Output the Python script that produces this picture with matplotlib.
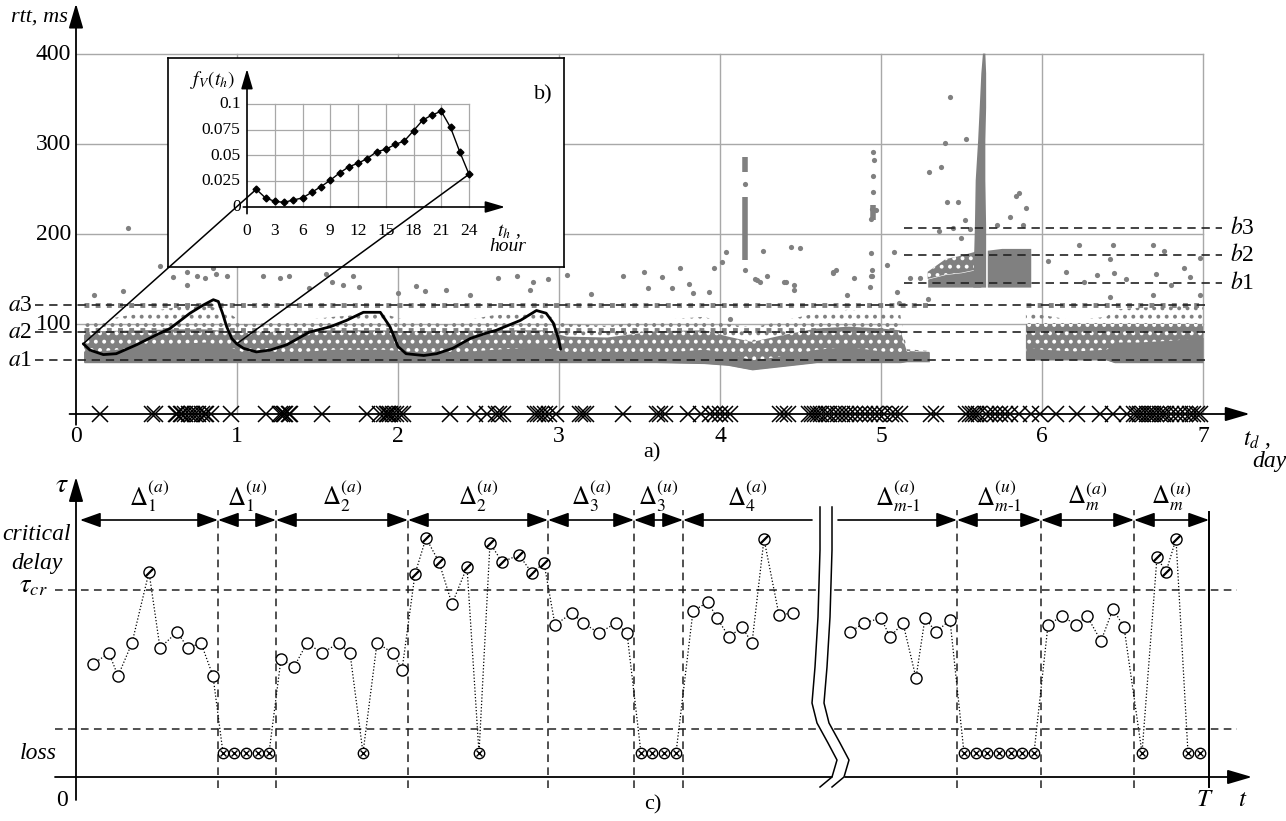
import numpy as np
import matplotlib
matplotlib.use("Agg")
import matplotlib.pyplot as plt
from matplotlib.patches import ConnectionPatch
from matplotlib.path import Path

plt.rcParams['font.family'] = ['Liberation Serif', 'DejaVu Serif']
plt.rcParams['mathtext.fontset'] = 'stix'
plt.rcParams['hatch.linewidth'] = 1.6

W, H = 1286, 821
GRAY = '#808080'
GRID = '#a8a8a8'
DASH = (0, (5, 3.5))

# ---------------- panel a) : rtt over a week ----------------
day_ticks = [0, 1, 2, 3, 4, 5, 6, 7]
rtt_ticks = [100, 200, 300, 400]
a_levels = [60, 91, 121]
b_levels = [146, 177, 207]
level_names = ['1', '2', '3']

# dense part of the rtt cloud (days, lower edge, solid core top, medium top, sparse top)
segA_days = [0.05, 0.15, 0.4, 0.6, 0.8, 0.95, 1.05, 1.3, 1.6, 1.9, 2.05, 2.3, 2.6, 2.9,
             3.05, 3.3, 3.6, 3.9, 4.05, 4.2, 4.4, 4.6, 4.8, 5.0, 5.12, 5.16, 5.3]
segA_low = [57, 57, 57, 57, 57, 57, 57, 57, 57, 57, 57, 57, 57, 57,
            57, 57, 57, 56, 54, 49, 53, 57, 57, 57, 57, 58, 58]
segA_core = [68, 70, 75, 78, 80, 75, 68, 68, 72, 72, 70, 68, 72, 75,
             68, 66, 68, 72, 68, 60, 65, 72, 75, 70, 68, 68, 69]
segA_mid = [90, 92, 93, 94, 94, 92, 90, 92, 93, 93, 92, 92, 93, 93,
            86, 85, 92, 93, 86, 80, 88, 95, 97, 95, 93, 70, 69]
segA_sparse = [100, 104, 112, 118, 122, 112, 100, 102, 108, 112, 104, 100, 110, 112,
               100, 98, 104, 108, 100, 96, 104, 112, 116, 112, 110, 72, 70]

segC_days = [5.9, 6.0, 6.2, 6.4, 6.45, 6.6, 6.8, 7.0]
segC_low = [60, 60, 60, 60, 57, 57, 57, 57]
segC_core = [75, 72, 70, 72, 80, 80, 82, 85]
segC_mid = [100, 100, 100, 100, 100, 100, 100, 100]
segC_sparse = [112, 110, 104, 108, 116, 118, 120, 122]

segB_days = [5.29, 5.4, 5.5, 5.58, 5.62]
segB_low = [141, 141, 141, 141, 141]
segB_core = [150, 155, 157, 160, 165]
segB_mid = [158, 172, 176, 180, 186]

segB2_days = [5.66, 5.75, 5.85, 5.93]
segB2_low = [141, 141, 141, 141]
segB2_core = [182, 184, 184, 184]

# the narrow congestion spike around day 5.6
spike_ms = [141, 208, 260, 304, 341, 379, 401]
spike_left = [5.57, 5.58, 5.585, 5.60, 5.61, 5.62, 5.63]
spike_right = [5.65, 5.65, 5.645, 5.645, 5.65, 5.65, 5.645]

# vertical streaks of samples
streak_days = [4.155, 4.155, 4.95]
streak_lo = [171, 269, 215]
streak_hi = [241, 286, 232]

# rows of quantised samples
row_ms = [121, 121, 93]
row_start = [0.05, 5.9, 0.05]
row_end = [5.3, 7.0, 5.12]

out_days = [0.11, 0.29, 0.32, 0.60, 0.69, 0.69, 0.75, 0.80, 0.87, 0.94, 1.16, 1.27, 1.32, 1.55,
            1.59, 1.66, 1.72, 1.76, 2.11, 2.17, 2.45, 2.62, 2.74, 2.84, 2.82, 2.93, 3.05, 3.40,
            3.53, 3.55, 3.64, 3.81, 3.83, 3.93, 4.06, 4.23, 4.29, 4.40, 4.46, 4.70, 4.83, 4.94,
            4.93, 4.79, 4.27, 4.44, 4.50, 4.04, 4.01, 3.96, 3.75, 5.08, 5.04, 4.41, 4.46, 4.70,
            4.72, 4.25, 4.22, 5.43, 5.40, 5.53, 5.30, 5.37, 5.41, 5.48, 5.84, 5.86, 5.90, 5.80,
            6.23, 6.44, 6.69, 6.76, 6.42, 6.04, 6.15, 6.34, 6.45, 6.52, 6.71, 6.88, 6.98, 6.92,
            6.26, 5.18, 5.24, 5.29, 5.11, 5.10, 6.42, 6.69, 6.80, 6.98, 5.36, 5.45, 5.72, 5.88,
            5.55, 4.155, 4.155, 4.952, 4.957, 4.95, 4.95, 4.946, 4.97, 4.94, 4.94, 4.946, 4.946,
            0.52, 0.65, 1.45, 2.0, 2.3, 3.2, 3.7, 0.85, 5.5, 5.52]
out_ms = [132, 137, 207, 152, 158, 143, 153, 151, 156, 153, 153, 151, 153, 156,
          147, 143, 153, 141, 142, 137, 132, 151, 153, 147, 138, 150, 154, 153,
          158, 140, 152, 145, 134, 136, 106, 149, 153, 147, 143, 158, 151, 153,
          141, 132, 181, 186, 184, 180, 169, 162, 162, 180, 166, 147, 138, 157,
          160, 147, 150, 352, 301, 306, 269, 274, 236, 236, 242, 245, 229, 219,
          188, 188, 188, 181, 172, 170, 158, 154, 157, 150, 156, 162, 173, 152,
          147, 151, 151, 128, 123, 136, 130, 132, 143, 132, 203, 207, 210, 210,
          205, 256, 160, 291, 282, 264, 247, 228, 227, 217, 179, 160, 153,
          165, 170, 140, 135, 138, 133, 140, 162, 196, 215]

# black daily-profile curve over the first three days
curve_days = [0.045, 0.087, 0.17, 0.25, 0.377, 0.50, 0.584, 0.708, 0.79, 0.853, 0.884, 0.91,
              0.936, 0.967, 0.998, 1.04, 1.12, 1.205, 1.31, 1.45, 1.58, 1.68, 1.785, 1.89,
              1.95, 2.0, 2.05, 2.16, 2.24, 2.34, 2.45, 2.55, 2.61, 2.76, 2.86, 2.92, 2.965,
              2.996, 3.01]
curve_ms = [78, 71, 66, 67, 77, 88, 95, 112, 121, 127, 125, 112,
            97, 84, 78, 73, 69, 71, 77, 91, 97, 104, 113, 113,
            97, 75, 67, 65, 67, 73, 84, 90, 93, 104, 115, 112, 101,
            84, 72]

# packet losses along the time axis
cross_days = [0.15, 0.47, 0.49, 0.62, 0.63, 0.65, 0.66, 0.68, 0.70, 0.72, 0.74, 0.76, 0.78,
              0.80, 0.81, 0.84, 0.96, 1.18, 1.27, 1.28, 1.29, 1.30, 1.32, 1.33, 1.53, 1.81,
              1.89, 1.91, 1.93, 1.94, 1.95, 1.97, 1.99, 2.01, 2.03, 2.32, 2.48, 2.55, 2.61,
              2.63, 2.65, 2.85, 2.87, 2.89, 2.91, 2.94, 2.98, 3.13, 3.15, 3.17, 3.40, 3.61,
              3.63, 3.66, 3.80, 3.88, 3.94, 3.97, 4.00, 4.03, 4.06, 4.37, 4.40, 4.42, 4.55,
              4.57, 4.59, 4.61, 4.63, 4.66, 4.68, 4.71, 4.73, 4.76, 4.78, 4.81, 4.84, 4.87,
              4.90, 4.93, 4.96, 4.99, 5.02, 5.06, 5.09, 5.12, 5.31, 5.34, 5.53, 5.55, 5.57,
              5.59, 5.61, 5.65, 5.68, 5.71, 5.74, 5.77, 5.80, 5.86, 5.93, 5.99, 6.09, 6.22,
              6.36, 6.44, 6.53, 6.57, 6.59, 6.61, 6.63, 6.65, 6.67, 6.69, 6.71, 6.73, 6.75,
              6.77, 6.80, 6.83, 6.86, 6.89, 6.92, 6.94, 6.96, 6.98]

# ---------------- inset b) : hourly profile ----------------
hour_ticks = [0, 3, 6, 9, 12, 15, 18, 21, 24]
f_ticks = [0, 0.025, 0.05, 0.075, 0.1]
hours = list(range(1, 25))
f_vals = [0.0172, 0.0088, 0.0055, 0.0045, 0.0068, 0.0088, 0.0143, 0.0198, 0.026, 0.033,
          0.039, 0.0425, 0.047, 0.0536, 0.056, 0.0607, 0.064, 0.074, 0.0844, 0.0893,
          0.093, 0.0773, 0.0536, 0.0318]

# ---------------- panel c) : schematic of delay intervals ----------------
TAU_CR = 187
LOSS_LINE = 48
LOSS = 24
ROW = 257
pre_t = [17, 33, 42, 56, 73, 84, 101, 112, 125, 137, 147, 158, 170, 182, 193,
         205, 218, 231, 246, 263, 274, 287, 301, 317, 326, 339, 350, 363, 376, 391, 403,
         414, 426, 443, 456, 468, 479, 496, 507, 523, 540, 551, 565, 576, 588, 600,
         617, 632, 641, 653, 666, 676, 688, 703, 717]
pre_tau = [113, 124, 101, 134, 205, 129, 145, 129, 134, 101, LOSS, LOSS, LOSS, LOSS, LOSS,
           118, 110, 134, 124, 134, 124, LOSS, 134, 124, 107, 203, 239, 215, 173, 210, LOSS,
           234, 215, 222, 204, 214, 152, 164, 154, 144, 154, 144, LOSS, LOSS, LOSS, LOSS,
           166, 175, 159, 140, 150, 134, 238, 162, 164]
post_t = [774, 788, 805, 814, 827, 840, 849, 860, 874, 888, 900, 911, 923, 935, 946, 958,
          972, 986, 1000, 1011, 1025, 1037, 1048, 1066, 1081, 1090, 1100, 1112, 1124]
post_tau = [145, 154, 159, 140, 154, 99, 159, 145, 157, LOSS, LOSS, LOSS, LOSS, LOSS, LOSS,
            LOSS, 152, 161, 152, 161, 136, 168, 150, LOSS, 220, 205, 238, LOSS, LOSS]

bounds = [142, 200, 332, 472, 558, 607, 881, 965, 1058]
T_END = 1133
arrow_from = [4, 142, 200, 332, 472, 558, 607, 762, 881, 965, 1058]
arrow_to = [142, 200, 332, 472, 558, 607, 736, 881, 965, 1058, 1133]
arrow_heads = ['<|-|>'] * 6 + ['<|-', '-|>'] + ['<|-|>'] * 3
delta_labels = [r'$\Delta_1^{(a)}$', r'$\Delta_1^{(u)}$', r'$\Delta_2^{(a)}$', r'$\Delta_2^{(u)}$',
                r'$\Delta_3^{(a)}$', r'$\Delta_3^{(u)}$', r'$\Delta_4^{(a)}$',
                r'$\Delta_{m\text{-}1}^{(a)}$', r'$\Delta_{m\text{-}1}^{(u)}$',
                r'$\Delta_m^{(a)}$', r'$\Delta_m^{(u)}$']

# wavy break between interval 4 and interval m-1
break_tau = [270, 227, 160, 110, 74, 54, 34, 17, 0, -10]
break_t = [744, 744, 742, 739, 736, 741, 752, 761, 756, 744]
break_gap = 12


def px_axes(fig, x0, y0, x1, y1):
    ax = fig.add_axes([x0 / W, 1 - y1 / H, (x1 - x0) / W, (y1 - y0) / H])
    ax.set_axis_off()
    return ax


def axis_arrow(ax, start, tip, lw=1.3, scale=20):
    ax.annotate('', xy=tip, xytext=start, annotation_clip=False,
                arrowprops=dict(arrowstyle='-|>,head_length=0.75,head_width=0.22',
                                color='k', lw=lw, mutation_scale=scale,
                                shrinkA=0, shrinkB=0))


fig = plt.figure(figsize=(W / 100, H / 100), dpi=100)

# ================= panel a =================
ax = px_axes(fig, 0, 0, W, 470)
ax.set_xlim((0 - 76) / 161, (W - 76) / 161)
ax.set_ylim((414 - 470) / 0.9, 414 / 0.9)

for d in day_ticks[1:]:
    ax.plot([d, d], [0, 400], color=GRID, lw=1, zorder=1)
for r in rtt_ticks:
    ax.plot([0, 7], [r, r], color=GRID, lw=1, zorder=1)

# cloud of samples: sparse dots on white, mottled medium band, solid core
for days, low, core, mid, sparse in [(segA_days, segA_low, segA_core, segA_mid, segA_sparse),
                                     (segC_days, segC_low, segC_core, segC_mid, segC_sparse)]:
    ax.fill_between(days, mid, sparse, facecolor='none', edgecolor=GRAY, hatch='..', lw=0, zorder=2)
    ax.fill_between(days, low, mid, facecolor=GRAY, edgecolor='white', hatch='..', lw=0, zorder=2)
    ax.fill_between(days, low, core, color=GRAY, lw=0, zorder=2)
ax.fill_between(segB_days, segB_core, segB_mid, facecolor=GRAY, edgecolor='white', hatch='..',
                lw=0, zorder=2)
ax.fill_between(segB_days, segB_low, segB_core, color=GRAY, lw=0, zorder=2)
ax.fill_between(segB2_days, segB2_low, segB2_core, color=GRAY, lw=0, zorder=2)
ax.fill_betweenx(spike_ms, spike_left, spike_right, color=GRAY, lw=0, zorder=2)
ax.vlines(streak_days, streak_lo, streak_hi, color=GRAY, lw=4, zorder=2)
ax.hlines(row_ms, row_start, row_end, color=GRAY, lw=3.5, linestyles=[(0, (1, 1.3))], zorder=2)
ax.scatter(out_days, out_ms, s=14, color=GRAY, lw=0, zorder=2)

for lvl, name in zip(a_levels, level_names):
    ax.plot([-0.255, 7.02], [lvl, lvl], color='#222222', lw=1.2, ls=DASH, zorder=3)
    ax.text(-0.27, lvl, r'$a$' + name, ha='right', va='center', fontsize=17)
for lvl, name in zip(b_levels, level_names):
    ax.plot([5.14, 7.12], [lvl, lvl], color='#222222', lw=1.2, ls=DASH, zorder=3)
    ax.text(7.17, lvl, r'$b$' + name, ha='left', va='center', fontsize=17)

ax.plot(curve_days, curve_ms, color='k', lw=2, zorder=4, solid_capstyle='round')

ax.plot(cross_days, np.zeros(len(cross_days)), ls='none', marker='x', ms=11, mew=1.1,
        color='k', zorder=5, clip_on=False)
axis_arrow(ax, (-0.04, 0), (7.29, 0))
axis_arrow(ax, (0, -12), (0, 456))

for d in day_ticks:
    ax.text(d, -25.5, str(d), ha='center', va='center', fontsize=17)
for r in rtt_ticks:
    ax.text(-0.03, r, str(r), ha='right', va='center', fontsize=17)
ax.text(-0.05, 441, 'rtt, ms', ha='right', va='center', style='italic', fontsize=16)
ax.text(7.25, -29, r'$t_d$ ,', ha='left', va='center', fontsize=17)
ax.text(7.415, -53, 'day', ha='center', va='center', style='italic', fontsize=17)
ax.text(3.58, -43, 'a)', ha='center', va='center', fontsize=16)

# ================= inset b =================
ins = fig.add_axes([168 / W, 1 - 267 / H, (564 - 168) / W, (267 - 58) / H])
ins.set_xlim((168 - 247) / 9.25, (564 - 247) / 9.25)
ins.set_ylim((207 - 267) / 1030, (207 - 58) / 1030)
ins.set_xticks([])
ins.set_yticks([])
for sp in ins.spines.values():
    sp.set_linewidth(1.2)
    sp.set_color('k')
for h in hour_ticks[1:]:
    ins.plot([h, h], [0, 0.1], color=GRID, lw=0.9)
for v in f_ticks[1:]:
    ins.plot([0, 24], [v, v], color=GRID, lw=0.9)
ins.plot(hours, f_vals, color='k', lw=1, marker='D', ms=3.5, zorder=4)
axis_arrow(ins, (-0.4, 0), (27.9, 0), lw=1.2, scale=16)
axis_arrow(ins, (0, -0.0065), (0, 0.134), lw=1.2, scale=16)
for h in hour_ticks:
    ins.text(h, -0.0235, str(h), ha='center', va='center', fontsize=12.5)
for v in f_ticks:
    ins.text(-0.7, v, f'{v:g}', ha='right', va='center', fontsize=12.5)
ins.text(-3.7, 0.123, r'$f_V(t_h)$', ha='center', va='center', fontsize=14)
ins.text(32.0, 0.109, 'b)', ha='center', va='center', fontsize=16)
ins.text(27.0, -0.0235, r'$t_h$ ,', ha='left', va='center', fontsize=14)
ins.text(28.2, -0.0385, 'hour', ha='center', va='center', style='italic', fontsize=14)

for (hh, ff), (dd, mm) in [((hours[0], f_vals[0]), (curve_days[0], curve_ms[0])),
                           ((hours[-1], f_vals[-1]), (curve_days[14], curve_ms[14]))]:
    con = ConnectionPatch(xyA=(hh, ff), coordsA=ins.transData, xyB=(dd, mm), coordsB=ax.transData,
                          color='k', lw=1.1, zorder=5)
    fig.add_artist(con)

# ================= panel c =================
axc = px_axes(fig, 0, 465, W, 821)
axc.set_xlim(-76, W - 76)
axc.set_ylim(777 - 821, 777 - 465)

for lvl in [TAU_CR, LOSS_LINE]:
    axc.plot([-21, 1161], [lvl, lvl], color='#222222', lw=1.1, ls=DASH, zorder=1)
for b in bounds:
    axc.plot([b, b], [-11, 267], color='#222222', lw=1.1, ls=DASH, zorder=1)
axc.plot([T_END, T_END], [-10, 265], color='k', lw=1.4, zorder=1)
axis_arrow(axc, (-21, 0), (1176, 0))
axis_arrow(axc, (0, -23), (0, 300))

for s, e, hd, lab in zip(arrow_from, arrow_to, arrow_heads, delta_labels):
    axc.annotate('', xy=(e, ROW), xytext=(s, ROW),
                 arrowprops=dict(arrowstyle=hd + ',head_length=0.7,head_width=0.25', color='k',
                                 lw=1.2, mutation_scale=18, shrinkA=0, shrinkB=0))
    axc.text((s + e) / 2, 281, lab, ha='center', va='center', fontsize=18)

slash = Path([(-1, -1), (1, 1)], [Path.MOVETO, Path.LINETO])
for ts, taus in [(pre_t, pre_tau), (post_t, post_tau)]:
    ts = np.array(ts)
    taus = np.array(taus)
    axc.plot(ts, taus, color='k', lw=0.9, ls=(0, (1, 1.6)), zorder=2)
    lost = taus == LOSS
    axc.plot(ts[~lost], taus[~lost], ls='none', marker='o', ms=8, mfc='white', mec='k', mew=1.0, zorder=3)
    axc.plot(ts[lost], taus[lost], ls='none', marker='o', ms=7.5, mfc='white', mec='k', mew=1.0, zorder=3)
    axc.plot(ts[lost], taus[lost], ls='none', marker='x', ms=5, mec='k', mew=1.0, zorder=4)
    high = taus > TAU_CR
    axc.plot(ts[high], taus[high], ls='none', marker=slash, ms=5.5, mec='k', mew=1.6, zorder=4)

right_curve = [t + break_gap for t in break_t]
axc.fill_betweenx(break_tau, break_t, right_curve, color='white', lw=0, zorder=5)
axc.plot(break_t, break_tau, color='k', lw=1.1, zorder=6)
axc.plot(right_curve, break_tau, color='k', lw=1.1, zorder=6)

axc.text(-14, 292, r'$\tau$', ha='center', va='center', fontsize=20)
axc.text(-5, 242, 'critical', ha='right', va='center', style='italic', fontsize=17)
axc.text(-13, 214, 'delay', ha='right', va='center', style='italic', fontsize=17)
axc.text(-28, 190, r'$\tau_{cr}$', ha='right', va='center', fontsize=19)
axc.text(-19, 24, 'loss', ha='right', va='center', style='italic', fontsize=17)
axc.text(-14, -23, '0', ha='center', va='center', fontsize=17)
axc.text(T_END - 4, -23, r'$T$', ha='center', va='center', fontsize=18)
axc.text(1167, -23, r'$t$', ha='center', va='center', fontsize=18)
axc.text(577, -28, 'c)', ha='center', va='center', fontsize=16)

fig.savefig('out.png', dpi=100)
